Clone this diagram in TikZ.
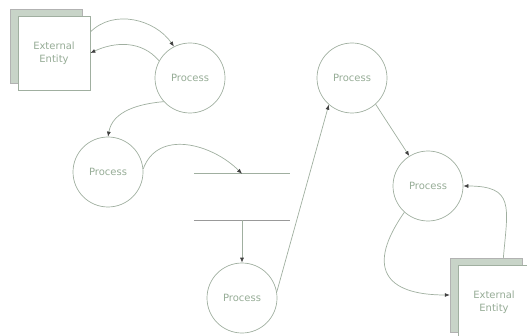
\documentclass[tikz,border=0pt]{standalone}
\usepackage{fontspec}
\setmainfont{DejaVu Sans}
\usetikzlibrary{arrows.meta}

\definecolor{linegreen}{RGB}{160,175,160}
\definecolor{textgreen}{RGB}{150,172,150}
\definecolor{shadegreen}{RGB}{200,212,200}

\begin{document}
\begin{tikzpicture}[x=1pt,y=1pt,
        proc/.style={circle,draw=linegreen,line width=0.7pt,minimum size=70pt,inner sep=0pt,
            text=textgreen,font=\fontsize{10}{13}\selectfont},
        entity/.style={rectangle,draw=linegreen,line width=0.7pt,fill=white,minimum width=72pt,
            minimum height=74pt,inner sep=0pt,align=center,text=textgreen,
            font=\fontsize{10}{13}\selectfont},
        entityback/.style={rectangle,draw=gray!60,fill=shadegreen,
            minimum width=72pt,minimum height=74pt},
        store/.style={minimum width=96pt,minimum height=46pt,inner sep=0pt},
        flow/.style={draw=linegreen,line width=0.7pt,
            -{Latex[length=5pt,width=4pt,color=black!75]}}]

            \useasboundingbox (0,0) rectangle (527,335);
            \clip (0,0) rectangle (527,335);

            \path   (46,289) node (e1b) [entityback] {}
                    (54,282) node (e1) [entity] {External\\Entity}
                    (486,40) node (e2b) [entityback] {}
                    (494,33) node (e2) [entity] {External\\Entity}
                    (190,257) node (p1) [proc] {Process}
                    (108,163) node (p2) [proc] {Process}
                    (242,37) node (p3) [proc] {Process}
                    (352,257) node (p4) [proc] {Process}
                    (428,149) node (p5) [proc] {Process}
                    (242,138) node (s) [store] {};

            % data store: open top and bottom lines
            \draw[linegreen,line width=0.7pt] (node cs: name =s, anchor=north west) -- (node cs: name =s, anchor=north east);
            \draw[gray!80,line width=0.7pt] (node cs: name =s, anchor=south west) -- (node cs: name =s, anchor=south east);

            \draw[flow] (node cs: name =e1, angle=30) to[out=45,in=125] (node cs: name =p1, angle=117);
            \draw[flow] (node cs: name =p1, angle=151) to[out=130,in=25] (node cs: name =e1, anchor=east);
            \draw[flow] (node cs: name =p1, angle=222) to[out=185,in=80] (node cs: name =p2, anchor=north);
            \draw[flow] (node cs: name =p2, angle=5) to[out=70,in=135,looseness=1.1] (node cs: name =s, anchor=north);
            \draw[flow] (node cs: name =s, anchor=south) -- (node cs: name =p3, anchor=north);
            \draw[flow] (node cs: name =p3, angle=10) -- (node cs: name =p4, angle=229);
            \draw[flow] (node cs: name =p4, angle=-48) -- (node cs: name =p5, angle=122);
            \draw[flow] (node cs: name =p5, angle=228) to[out=235,in=180,looseness=1.8] (node cs: name =e2b, anchor=west);
            \draw[flow] (node cs: name =e2b, angle=65) to[out=85,in=0,looseness=1.6] (node cs: name =p5, anchor=east);

        \end{tikzpicture}
\end{document}
